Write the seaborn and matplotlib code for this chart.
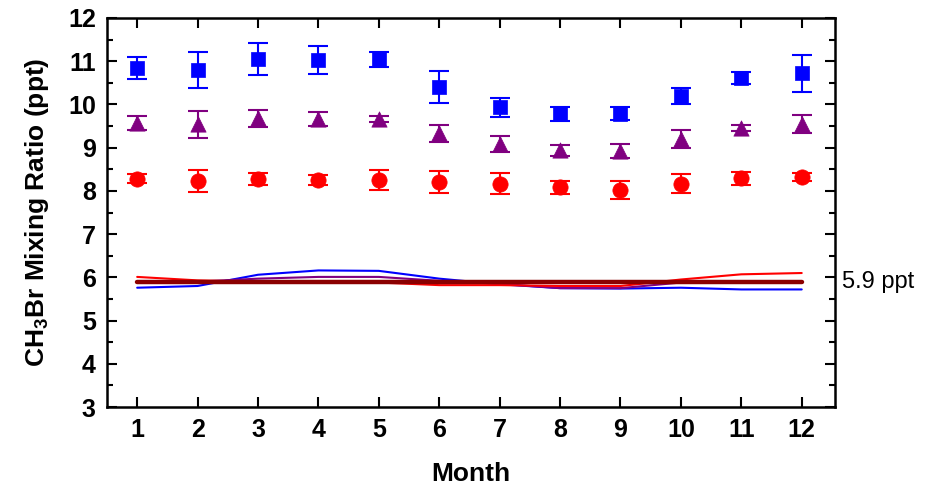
import numpy as np
import pandas as pd
import matplotlib
matplotlib.use("Agg")
import matplotlib.pyplot as plt
import seaborn as sns

months = [1, 2, 3, 4, 5, 6, 7, 8, 9, 10, 11, 12]

# monthly observed means (ppt) and error bars
blue_obs = [10.84, 10.80, 11.05, 11.03, 11.04, 10.41, 9.93, 9.78, 9.79, 10.19, 10.62, 10.72]
blue_err = [0.26, 0.41, 0.38, 0.33, 0.17, 0.37, 0.23, 0.17, 0.15, 0.19, 0.14, 0.43]
purple_obs = [9.57, 9.54, 9.68, 9.66, 9.66, 9.33, 9.08, 8.94, 8.92, 9.20, 9.46, 9.54]
purple_err = [0.17, 0.31, 0.20, 0.17, 0.07, 0.20, 0.19, 0.13, 0.17, 0.20, 0.07, 0.21]
red_obs = [8.28, 8.23, 8.27, 8.25, 8.25, 8.21, 8.17, 8.08, 8.03, 8.17, 8.29, 8.32]
red_err = [0.10, 0.26, 0.14, 0.12, 0.23, 0.25, 0.25, 0.15, 0.21, 0.22, 0.15, 0.10]

# model lines
blue_model = [5.76, 5.80, 6.06, 6.16, 6.15, 5.97, 5.84, 5.75, 5.74, 5.76, 5.72, 5.72]
purple_model = [5.90, 5.90, 5.97, 6.01, 6.01, 5.92, 5.85, 5.75, 5.75, 5.88, 5.90, 5.90]
red_model = [6.01, 5.93, 5.90, 5.88, 5.88, 5.82, 5.82, 5.80, 5.80, 5.95, 6.07, 6.10]
base_model = [5.9, 5.9, 5.9, 5.9, 5.9, 5.9, 5.9, 5.9, 5.9, 5.9, 5.9, 5.9]

sns.set_style("ticks", {"axes.edgecolor": "black", "text.color": "black",
                        "xtick.color": "black", "ytick.color": "black",
                        "axes.labelcolor": "black"})
plt.rcParams["font.family"] = ["Liberation Sans", "DejaVu Sans"]
plt.rcParams["mathtext.fontset"] = "custom"
plt.rcParams["mathtext.bf"] = "Liberation Sans:bold"
plt.rcParams["mathtext.rm"] = "Liberation Sans"

fig = plt.figure(figsize=(9.35, 4.93), dpi=100)
ax = fig.add_axes([0.1144, 0.1744, 0.7786, 0.7891])

df_lines = pd.DataFrame({
    "month": months * 4,
    "value": blue_model + purple_model + red_model + base_model,
    "series": ["blue"] * 12 + ["purple"] * 12 + ["red"] * 12 + ["base"] * 12,
})
line_colors = {"blue": "#0000ff", "purple": "#800080", "red": "#ff0000", "base": "#8b0000"}
for s, lw in [("blue", 1.5), ("purple", 1.5), ("red", 1.5), ("base", 3.2)]:
    sub = df_lines[df_lines["series"] == s]
    sns.lineplot(data=sub, x="month", y="value", color=line_colors[s], lw=lw, ax=ax, zorder=2)

obs = [
    (blue_obs, blue_err, "#0000ff", "s", 10),
    (purple_obs, purple_err, "#800080", "^", 11),
    (red_obs, red_err, "#ff0000", "o", 11),
]
for vals, errs, c, m, ms in obs:
    ax.errorbar(months, vals, yerr=errs, fmt="none", ecolor=c, elinewidth=1.5,
                capsize=7.5, capthick=1.5, zorder=3)
    sns.scatterplot(x=months, y=vals, color=c, marker=m, s=ms ** 2, edgecolor=c,
                    linewidth=0.5, ax=ax, zorder=4)

ax.set_xlim(0.5, 12.55)
ax.set_ylim(3, 12)
ax.set_xticks(months)
ax.set_yticks(range(3, 13))
ax.set_yticks(np.arange(3.5, 12, 1), minor=True)
ax.tick_params(which="both", direction="in", top=True, right=True, width=1.5,
               labelsize=18, pad=8, colors="black")
ax.tick_params(which="major", length=7)
ax.tick_params(which="minor", length=4)
for lbl in ax.get_xticklabels() + ax.get_yticklabels():
    lbl.set_fontweight("bold")
for sp in ax.spines.values():
    sp.set_linewidth(1.8)
    sp.set_color("black")

ax.set_xlabel("Month", fontsize=19, fontweight="bold", labelpad=14)
ax.set_ylabel("CH$_\\mathbf{3}$Br Mixing Ratio (ppt)", fontsize=19, fontweight="bold", labelpad=12)

ax.text(1.01, 5.9, "5.9 ppt", transform=ax.get_yaxis_transform(), fontsize=17,
        va="center", ha="left", color="black")

fig.savefig("out.png", dpi=100)
plt.close(fig)
